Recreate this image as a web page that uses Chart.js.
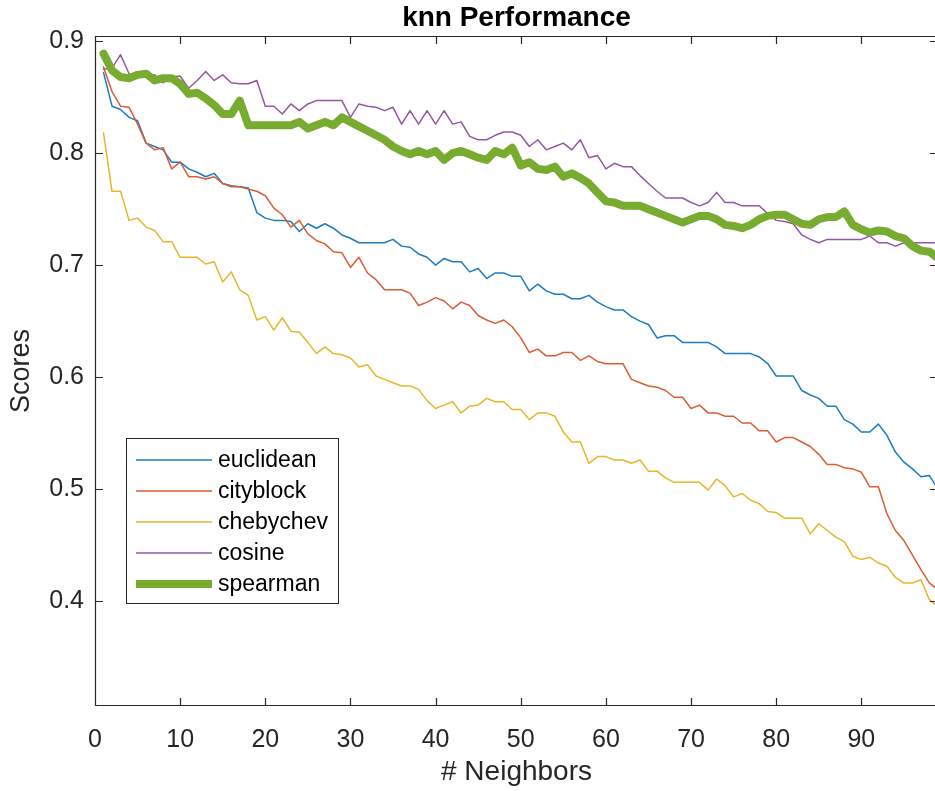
<!DOCTYPE html>
<html><head><meta charset="utf-8">
<script src="https://cdn.jsdelivr.net/npm/chart.js@4.4.1/dist/chart.umd.min.js"></script>
<style>html,body{margin:0;padding:0;background:#fff;overflow:hidden;width:935px;height:791px}#wrap{width:938px;height:791px}</style>
</head><body><div id="wrap"><canvas id="c" width="938" height="791"></canvas></div>
<script>
const neighbors = [1,2,3,4,5,6,7,8,9,10,11,12,13,14,15,16,17,18,19,20,21,22,23,24,25,26,27,28,29,30,31,32,33,34,35,36,37,38,39,40,41,42,43,44,45,46,47,48,49,50,51,52,53,54,55,56,57,58,59,60,61,62,63,64,65,66,67,68,69,70,71,72,73,74,75,76,77,78,79,80,81,82,83,84,85,86,87,88,89,90,91,92,93,94,95,96,97,98,99];
const euclidean = [0.872,0.842,0.839,0.832,0.829,0.809,0.806,0.803,0.792,0.792,0.786,0.783,0.779,0.782,0.773,0.771,0.770,0.769,0.747,0.742,0.740,0.740,0.739,0.730,0.737,0.733,0.737,0.733,0.727,0.724,0.720,0.720,0.720,0.720,0.723,0.717,0.716,0.710,0.707,0.700,0.706,0.703,0.703,0.694,0.697,0.688,0.693,0.693,0.690,0.690,0.677,0.683,0.677,0.674,0.674,0.670,0.670,0.673,0.667,0.663,0.660,0.660,0.654,0.650,0.647,0.635,0.637,0.637,0.631,0.631,0.631,0.631,0.627,0.621,0.621,0.621,0.621,0.618,0.612,0.601,0.601,0.601,0.588,0.584,0.581,0.574,0.574,0.562,0.558,0.551,0.551,0.558,0.548,0.533,0.524,0.518,0.511,0.512,0.500];
const cityblock = [0.877,0.855,0.842,0.841,0.826,0.809,0.803,0.805,0.786,0.792,0.779,0.779,0.777,0.779,0.773,0.770,0.770,0.768,0.766,0.762,0.751,0.745,0.734,0.740,0.728,0.722,0.719,0.712,0.711,0.698,0.707,0.693,0.687,0.678,0.678,0.678,0.675,0.664,0.667,0.671,0.668,0.661,0.667,0.664,0.655,0.651,0.648,0.651,0.645,0.635,0.622,0.625,0.619,0.619,0.622,0.622,0.615,0.619,0.614,0.612,0.612,0.612,0.598,0.595,0.592,0.591,0.588,0.582,0.582,0.572,0.575,0.568,0.568,0.565,0.565,0.559,0.559,0.552,0.552,0.542,0.546,0.546,0.542,0.538,0.531,0.522,0.522,0.519,0.518,0.515,0.502,0.502,0.478,0.463,0.454,0.441,0.428,0.416,0.410];
const chebychev = [0.818,0.766,0.766,0.740,0.742,0.734,0.731,0.721,0.721,0.707,0.707,0.707,0.701,0.703,0.685,0.694,0.678,0.673,0.651,0.654,0.642,0.653,0.641,0.640,0.631,0.621,0.627,0.621,0.620,0.617,0.609,0.611,0.601,0.598,0.595,0.592,0.592,0.589,0.579,0.572,0.575,0.578,0.568,0.574,0.575,0.581,0.578,0.578,0.571,0.571,0.562,0.568,0.568,0.565,0.551,0.542,0.542,0.523,0.529,0.529,0.526,0.526,0.523,0.526,0.516,0.516,0.510,0.506,0.506,0.506,0.506,0.499,0.509,0.503,0.493,0.496,0.490,0.487,0.480,0.479,0.474,0.474,0.474,0.460,0.469,0.463,0.457,0.453,0.440,0.437,0.439,0.434,0.431,0.421,0.416,0.416,0.419,0.401,0.395];
const cosine = [0.875,0.876,0.888,0.871,0.868,0.868,0.870,0.863,0.868,0.869,0.858,0.865,0.873,0.865,0.870,0.863,0.862,0.862,0.865,0.842,0.842,0.835,0.844,0.838,0.844,0.847,0.847,0.847,0.847,0.832,0.844,0.842,0.841,0.838,0.841,0.826,0.838,0.826,0.838,0.826,0.838,0.826,0.828,0.815,0.812,0.812,0.816,0.819,0.819,0.816,0.806,0.812,0.803,0.806,0.809,0.803,0.812,0.796,0.798,0.786,0.791,0.788,0.788,0.780,0.773,0.766,0.760,0.760,0.760,0.756,0.753,0.756,0.765,0.756,0.756,0.753,0.753,0.753,0.746,0.740,0.739,0.737,0.727,0.723,0.720,0.723,0.723,0.723,0.723,0.723,0.726,0.720,0.720,0.717,0.720,0.720,0.720,0.720,0.720];
const spearman = [0.889,0.874,0.868,0.867,0.870,0.871,0.865,0.867,0.867,0.862,0.853,0.854,0.849,0.843,0.835,0.835,0.847,0.825,0.825,0.825,0.825,0.825,0.825,0.828,0.822,0.825,0.828,0.825,0.832,0.828,0.824,0.820,0.816,0.812,0.806,0.802,0.799,0.802,0.799,0.802,0.794,0.800,0.802,0.799,0.796,0.794,0.802,0.799,0.805,0.789,0.792,0.786,0.785,0.788,0.779,0.782,0.778,0.773,0.765,0.757,0.756,0.753,0.753,0.753,0.750,0.747,0.744,0.741,0.738,0.741,0.744,0.744,0.741,0.736,0.735,0.733,0.736,0.741,0.744,0.745,0.745,0.741,0.737,0.736,0.741,0.743,0.743,0.748,0.736,0.732,0.729,0.731,0.730,0.726,0.724,0.717,0.713,0.712,0.706];
const seriesNames = ['euclidean','cityblock','chebychev','cosine','spearman'];
const xTicks = [0,10,20,30,40,50,60,70,80,90];
const xTickLabels = ['0','10','20','30','40','50','60','70','80','90'];
const yTicks = [0.4,0.5,0.6,0.7,0.8,0.9];
const yTickLabels = ['0.4','0.5','0.6','0.7','0.8','0.9'];

const FONT = '"Liberation Sans", Arial, Helvetica, sans-serif';
const AXC = '#262626';
const colors = ['#1b7cc2','#d95d35','#e9b52a','#9457a3','#77ac30'];
const widths = [1.5,1.5,1.5,1.5,8];
const values = [euclidean, cityblock, chebychev, cosine, spearman];

const datasets = values.map((arr, i) => ({
  label: seriesNames[i],
  data: arr.map((v, j) => ({x: neighbors[j], y: v})),
  borderColor: colors[i],
  backgroundColor: colors[i],
  borderWidth: widths[i],
  pointRadius: 0,
  tension: 0,
  fill: false,
  borderJoinStyle: 'round',
  borderCapStyle: 'round',
  order: 5 - i
}));

const boxPlugin = {
  id: 'box',
  afterDatasetsDraw(chart) {
    const {ctx, chartArea: a, scales: {x, y}} = chart;
    ctx.save();
    ctx.strokeStyle = AXC;
    ctx.lineWidth = 1.2;
    ctx.beginPath();
    ctx.moveTo(a.left + 0.5, a.top + 0.5);
    ctx.lineTo(a.right, a.top + 0.5);
    ctx.moveTo(a.left + 0.5, a.top);
    ctx.lineTo(a.left + 0.5, a.bottom);
    ctx.moveTo(a.left, a.bottom - 0.5);
    ctx.lineTo(a.right, a.bottom - 0.5);
    ctx.moveTo(a.right - 0.5, a.top);
    ctx.lineTo(a.right - 0.5, a.bottom);
    const L = 8;
    x.ticks.forEach(t => {
      const px = Math.round(x.getPixelForValue(t.value)) + 0.5;
      ctx.moveTo(px, a.bottom); ctx.lineTo(px, a.bottom - L);
      ctx.moveTo(px, a.top); ctx.lineTo(px, a.top + L);
    });
    y.ticks.forEach(t => {
      const py = Math.round(y.getPixelForValue(t.value)) + 0.5;
      ctx.moveTo(a.left, py); ctx.lineTo(a.left + L, py);
      ctx.moveTo(a.right, py); ctx.lineTo(a.right - L, py);
    });
    ctx.stroke();

    // title
    ctx.fillStyle = '#000';
    ctx.font = 'bold 28px ' + FONT;
    ctx.textAlign = 'center';
    ctx.textBaseline = 'middle';
    ctx.fillText('knn Performance', (a.left + a.right) / 2, 18);

    // legend
    const bx = 126, by = 438, bw = 212, bh = 165;
    ctx.fillStyle = '#fff';
    ctx.fillRect(bx, by, bw, bh);
    ctx.lineWidth = 1;
    ctx.strokeStyle = AXC;
    ctx.strokeRect(bx + 0.5, by + 0.5, bw, bh);
    ctx.font = '23px ' + FONT;
    ctx.textAlign = 'left';
    chart.data.datasets.forEach((ds, i) => {
      const yy = 460 + i * 31;
      ctx.beginPath();
      ctx.strokeStyle = ds.borderColor;
      ctx.lineWidth = ds.borderWidth;
      ctx.lineCap = 'butt';
      ctx.moveTo(136, yy); ctx.lineTo(212, yy);
      ctx.stroke();
      ctx.fillStyle = '#000';
      ctx.fillText(ds.label, 218, yy + 1);
    });
    ctx.restore();
  }
};

new Chart(document.getElementById('c'), {
  type: 'line',
  data: {datasets},
  plugins: [boxPlugin],
  options: {
    responsive: false,
    animation: false,
    layout: {padding: {top: 36, left: 0, right: 0, bottom: 0}},
    plugins: {legend: {display: false}, tooltip: {enabled: false}, title: {display: false}},
    scales: {
      x: {
        type: 'linear', min: 0, max: 99,
        grid: {display: false, drawTicks: false},
        border: {display: false},
        afterBuildTicks: s => { s.ticks = xTicks.map(v => ({value: v})); },
        afterFit: s => { s.height = 85; },
        ticks: {padding: 19, maxRotation: 0, autoSkip: false, color: AXC, font: {family: FONT, size: 25},
          callback: (v, i) => xTickLabels[i]},
        title: {display: true, text: '# Neighbors', color: AXC, font: {family: FONT, size: 28}, padding: {top: 4, bottom: 2}}
      },
      y: {
        type: 'linear', min: 0.3062, max: 0.9047,
        grid: {display: false, drawTicks: false},
        border: {display: false},
        afterBuildTicks: s => { s.ticks = yTicks.map(v => ({value: v})); },
        afterFit: s => { s.width = 95; },
        ticks: {padding: 11, autoSkip: false, color: AXC, font: {family: FONT, size: 25},
          callback: (v, i) => yTickLabels[i]},
        title: {display: true, text: 'Scores', color: AXC, font: {family: FONT, size: 27}, padding: {top: 5, bottom: 4}}
      }
    }
  }
});
</script>
</body></html>
